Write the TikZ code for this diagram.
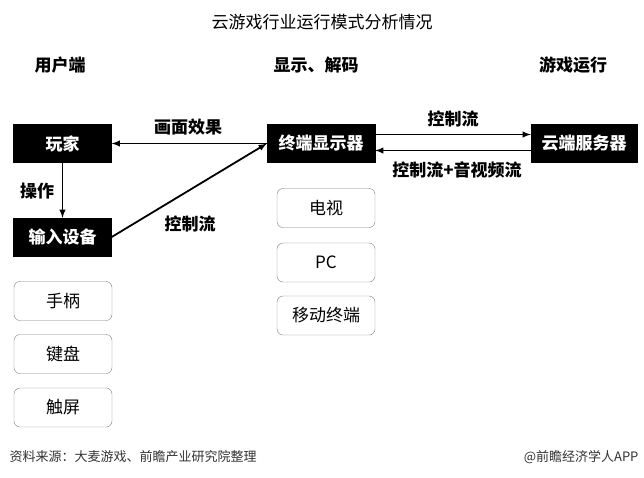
\documentclass[tikz,border=0pt]{standalone}
\usepackage{fontspec}
\setmainfont{Noto Sans CJK SC}
\usetikzlibrary{arrows}

\tikzset{
  darkbox/.style={draw=black, fill=black, text=white, font=\fontsize{17}{17}\selectfont\bfseries, minimum width=98pt, minimum height=38pt, inner sep=0pt},
  roundbox/.style={draw=black!50, fill=white, rounded corners=6pt, font=\fontsize{17}{17}\selectfont, minimum width=98pt, minimum height=39pt, inner sep=0pt},
  lbl/.style={font=\fontsize{17}{17}\selectfont\bfseries},
  flow/.style={line width=1.8pt, -latex}
}

\begin{document}
\begin{tikzpicture}[x=1pt, y=-1pt]
\useasboundingbox[fill=white] (0,0) rectangle (644,477);
\node (title) at (322,22) {\fontsize{17}{17}\selectfont 云游戏行业运行模式分析情况};
\node[lbl] (head1) at (60,65) {用户端};
\node[lbl] (head2) at (316,65) {显示、解码};
\node[lbl] (head3) at (573,65) {游戏运行};

\node[darkbox] (player) at (62.5,143.5) {玩家};
\node[darkbox] (input) at (62.5,237) {输入设备};
\node[darkbox, minimum width=108pt] (term) at (321,143.5) {终端显示器};
\node[darkbox, minimum width=106pt] (server) at (584,143.5) {云端服务器};

\node[roundbox] (tv) at (326,208) {电视};
\node[roundbox] (pc) at (326,262.5) {PC};
\node[roundbox] (mobile) at (326,315.5) {移动终端};
\node[roundbox] (pad) at (63,301) {手柄};
\node[roundbox] (keys) at (63,354) {键盘};
\node[roundbox] (touch) at (63,407.5) {触屏};

\draw[flow] (term.west) -- (player.east);
\draw[flow] (player.south) -- (input.north);
\draw[flow] (input.east) -- (term.west);
\draw[flow] ([yshift=9pt]term.east) -- ([yshift=9pt]server.west);
\draw[flow] ([yshift=-7pt]server.west) -- ([yshift=-7pt]term.east);

\node[lbl] (effect) at (188,127) {画面效果};
\node[lbl] (operate) at (37,191) {操作};
\node[lbl] (ctrl1) at (190,224) {控制流};
\node[lbl] (ctrl2) at (453,119) {控制流};
\node[lbl] (ctrl3) at (457,170) {控制流+音视频流};

\node[anchor=west, text=black!80, font=\fontsize{13}{13}\selectfont] (source) at (6,457) {资料来源：大麦游戏、前瞻产业研究院整理};
\node[anchor=east, text=black!80, font=\fontsize{13}{13}\selectfont] (brand) at (642,457) {@前瞻经济学人APP};
\end{tikzpicture}
\end{document}
